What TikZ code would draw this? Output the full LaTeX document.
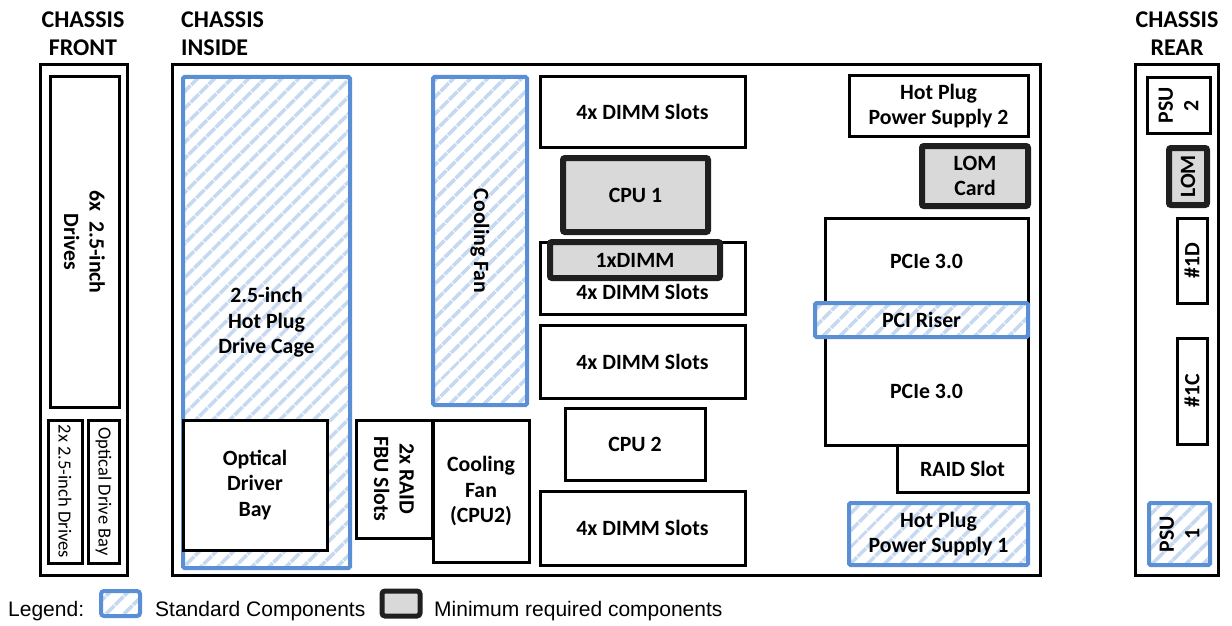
\documentclass[tikz,border=0pt]{standalone}
\usepackage{fontspec}
\setmainfont{Carlito}
\newfontfamily\legendfont{Liberation Sans}
\usetikzlibrary{patterns.meta}
\definecolor{stdblue}{HTML}{5B8FD5}
\definecolor{stripeblue}{HTML}{C6D9F1}
\definecolor{mingrey}{HTML}{D9D9D9}
\tikzset{
  lbl/.style={font=\fontsize{21.8}{25.5}\selectfont\bfseries, align=center, inner sep=0pt},
  smalllbl/.style={font=\fontsize{18.5}{21}\selectfont, align=center, inner sep=0pt},
  headlbl/.style={font=\fontsize{24}{28}\selectfont\bfseries, inner sep=0pt},
  base/.style={inner sep=0pt, outer sep=0pt, lbl},
  blk/.style={base, draw=black, line width=3pt, fill=white},
  chassis/.style={base, draw=black, line width=3pt},
  stdc/.style={base, draw=stdblue, line width=4pt, rounded corners=1.5pt,
    preaction={fill=white},
    pattern={Lines[angle=45,distance=13pt,line width=4pt]}, pattern color=stripeblue},
  minc/.style={base, draw=black!88, line width=6pt, rounded corners=2pt, fill=mingrey},
  legtext/.style={font=\legendfont\fontsize{21}{24}\selectfont, anchor=west, inner sep=0pt},
}
\newcommand\comp[7][]{%
  \node[#2, #1, minimum width={#5-#3}, minimum height={#6-#4}]
    (#7) at ({(#3+#5)/2},{(#4+#6)/2}) {};}
\begin{document}
\begin{tikzpicture}[x=1pt,y=-1pt]
\useasboundingbox (0,0) rectangle (1232,626);

% headings
\node[headlbl, align=center] (hfront) at (83,34) {CHASSIS\\FRONT};
\node[headlbl, align=left, anchor=west] (hinside) at (181,34) {CHASSIS\\INSIDE};
\node[headlbl, align=center] (hrear) at (1177,34) {CHASSIS\\REAR};

% chassis front
\comp{chassis}{40}{65}{127}{575}{front}
\comp[label={[lbl,rotate=-90]center:{6x\ \ 2.5-inch\\Drives}}]{blk}{50}{77}{119}{407}{fdrv}
\comp[label={[smalllbl,rotate=-90]center:{2x 2.5-inch Drives}}]{blk}{48}{420}{82}{563}{ftwo}
\comp[label={[smalllbl,rotate=-90]center:{Optical Drive Bay}}]{blk}{88}{420}{119}{563}{fodb}

% chassis inside
\comp{chassis}{172}{65}{1040}{575}{inside}
\comp[label={[lbl]center:{2.5-inch\\Hot Plug\\Drive Cage}}]{stdc}{183}{77}{350}{568}{cage}
\comp[label={[lbl]center:{Optical\\Driver\\Bay}}]{blk}{183}{420}{327}{550}{odb}
\comp[label={[lbl,rotate=-90]center:{Cooling Fan}}]{stdc}{433}{77}{527}{405}{fan}
\comp[label={[lbl,rotate=-90]center:{2x RAID\\FBU Slots}}]{blk}{356}{420}{432}{538}{fbu}
\comp[label={[lbl]center:{Cooling\\Fan\\(CPU2)}}]{blk}{433}{420}{529}{562}{fantwo}
\comp[label={[lbl]center:{4x DIMM Slots}}]{blk}{540}{77}{745}{147}{dimma}
\comp[label={[lbl]center:{CPU 1}}]{minc}{563}{158}{708}{232}{cpua}
\comp[label={[lbl,yshift=-14pt]center:{4x DIMM Slots}}]{blk}{540}{242}{745}{314}{dimmb}
\comp[label={[lbl]center:{1xDIMM}}]{minc}{550}{242}{720}{278}{onedimm}
\comp[label={[lbl]center:{4x DIMM Slots}}]{blk}{540}{325}{745}{398}{dimmc}
\comp[label={[lbl]center:{CPU 2}}]{blk}{565}{408}{705}{480}{cpub}
\comp[label={[lbl]center:{4x DIMM Slots}}]{blk}{540}{491}{745}{565}{dimmd}
\comp[label={[lbl]center:{Hot Plug\\Power Supply 2}}]{blk}{849}{76}{1028}{136}{pstwo}
\comp[label={[lbl]center:{LOM\\Card}}]{minc}{922}{146}{1028}{206}{lom}
\comp[label={[lbl,yshift=8pt]center:{PCIe 3.0}}]{blk}{825}{218}{1028}{320}{pciea}
\comp[label={[lbl,yshift=-9pt]center:{PCIe 3.0}}]{blk}{825}{320}{1028}{445}{pcieb}
\comp[label={[lbl]center:{PCI Riser}}]{stdc}{815}{303}{1028}{337}{riser}
\comp[label={[lbl]center:{RAID Slot}}]{blk}{897}{445}{1028}{492}{raid}
\comp[label={[lbl]center:{Hot Plug\\Power Supply 1}}]{stdc}{849}{503}{1028}{565}{psone}

% chassis rear
\comp{chassis}{1135}{65}{1218}{575}{rear}
\comp[label={[lbl,rotate=90]center:{PSU\\2}}]{blk}{1147}{78}{1210}{133}{rpstwo}
\comp[label={[lbl,rotate=90]center:{LOM}}]{minc}{1169}{148}{1207}{205}{rlom}
\comp[label={[lbl,rotate=90]center:{\#1D}}]{blk}{1177}{218}{1207}{303}{rd}
\comp[label={[lbl,rotate=90]center:{\#1C}}]{blk}{1177}{338}{1207}{444}{rc}
\comp[label={[lbl,rotate=90]center:{PSU\\1}}]{stdc}{1149}{503}{1210}{565}{rpsone}

% legend
\node[legtext] (leg) at (8,611) {Legend:};
\comp[rounded corners=3pt]{stdc}{101}{591}{140}{616}{legstd}
\node[legtext] (legstdt) at (155,611) {Standard Components};
\comp[rounded corners=3pt, line width=5pt]{minc}{382}{591}{420}{616}{legmin}
\node[legtext] (legmint) at (434,611) {Minimum required components};
\end{tikzpicture}
\end{document}
